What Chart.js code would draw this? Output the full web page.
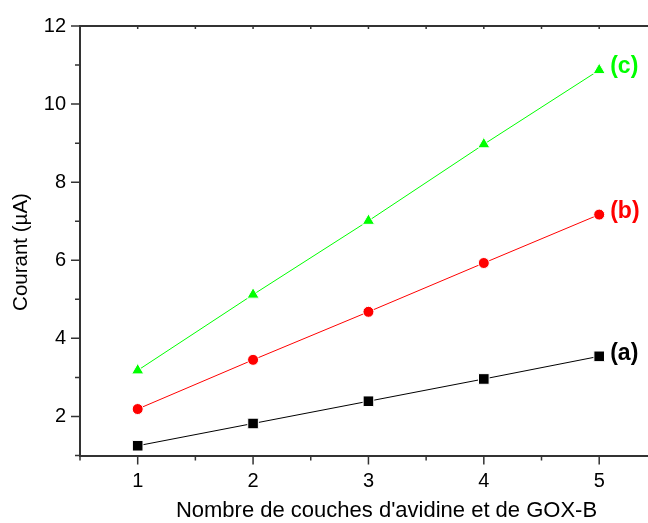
<!DOCTYPE html>
<html>
<head>
<meta charset="utf-8">
<script src="https://cdn.jsdelivr.net/npm/chart.js@4.4.1/dist/chart.umd.min.js"></script>
<style>
    html, body { margin: 0; padding: 0; background: #fff; overflow: hidden; }
    #wrap { width: 648px; height: 523px; }
</style>
</head>
<body>
<div id="wrap"><canvas id="Chart1" width="648" height="523"></canvas></div>
<script>
// couches d'avidine / GOX-B
const couches = [1, 2, 3, 4, 5];
const courantA = [1.25, 1.82, 2.39, 2.96, 3.54];
const courantB = [2.19, 3.45, 4.68, 5.93, 7.17];
const courantC = [3.18, 5.12, 7.01, 8.97, 10.87];
const serieLabels = ['(a)', '(b)', '(c)'];
const xTicks = [0.5, 1, 1.5, 2, 2.5, 3, 3.5, 4, 4.5, 5];
const yTicks = [1, 2, 3, 4, 5, 6, 7, 8, 9, 10, 11, 12];
const xTitle = "Nombre de couches d'avidine et de GOX-B";
const yTitle = 'Courant (µA)';

const axisColor = '#333';
const font = "Arial, 'Liberation Sans', sans-serif";

function toPoints(values) {
    return couches.map((c, i) => ({x: c, y: values[i]}));
}

// ticks, top frame, axis titles and (a)(b)(c) labels
const decoPlugin = {
    id: 'deco',
    afterDraw(chart) {
        const ctx = chart.ctx;
        const xs = chart.scales.x;
        const ys = chart.scales.y;
        const area = chart.chartArea;
        ctx.save();
        ctx.strokeStyle = axisColor;
        ctx.lineWidth = 1.5;
        ctx.beginPath();
        xTicks.forEach(v => {
            const px = xs.getPixelForValue(v);
            const len = Number.isInteger(v) ? 9 : 5;
            ctx.moveTo(px, area.bottom);
            ctx.lineTo(px, area.bottom + len);
            ctx.moveTo(px, area.top);
            ctx.lineTo(px, area.top + 3);
        });
        yTicks.forEach(v => {
            const py = ys.getPixelForValue(v);
            const len = v % 2 === 0 ? 9 : 5;
            ctx.moveTo(area.left, py);
            ctx.lineTo(area.left - len, py);
        });
        ctx.stroke();

        ctx.lineWidth = 2;
        ctx.beginPath();
        ctx.moveTo(area.left, area.top);
        ctx.lineTo(area.right, area.top);
        ctx.stroke();

        ctx.fillStyle = '#000';
        ctx.font = '22px ' + font;
        ctx.textAlign = 'center';
        ctx.textBaseline = 'middle';
        ctx.fillText(xTitle, 386.5, 511);

        ctx.font = '20.5px ' + font;
        ctx.translate(21, 252);
        ctx.rotate(-Math.PI / 2);
        ctx.fillText(yTitle, 0, 0);
        ctx.restore();

        ctx.save();
        ctx.font = 'bold 23px ' + font;
        ctx.textAlign = 'left';
        ctx.textBaseline = 'middle';
        chart.data.datasets.forEach((ds, i) => {
            const meta = chart.getDatasetMeta(i);
            const last = meta.data[meta.data.length - 1];
            ctx.fillStyle = ds.borderColor;
            ctx.fillText(serieLabels[i], last.x + 11, last.y - 3);
        });
        ctx.restore();
    }
};

const ctx = document.getElementById('Chart1').getContext('2d');
const courantChart = new Chart(ctx, {
    type: 'line',
    data: {
        datasets: [{
                label: '(a)',
                data: toPoints(courantA),
                borderColor: '#000000',
                backgroundColor: '#000000',
                borderWidth: 1,
                pointStyle: 'rect',
                pointRadius: 7.5,
                pointBorderColor: '#ffffff',
                pointBorderWidth: 1
            }, {
                label: '(b)',
                data: toPoints(courantB),
                borderColor: '#ff0000',
                backgroundColor: '#ff0000',
                borderWidth: 1,
                pointStyle: 'circle',
                pointRadius: 5.5,
                pointBorderColor: '#ffffff',
                pointBorderWidth: 1
            }, {
                label: '(c)',
                data: toPoints(courantC),
                borderColor: '#00ff00',
                backgroundColor: '#00ff00',
                borderWidth: 1,
                pointStyle: 'triangle',
                pointRadius: 7,
                pointBorderColor: '#ffffff',
                pointBorderWidth: 1
            }]
    },
    options: {
        responsive: false,
        animation: false,
        layout: {autoPadding: false, padding: {top: 26, right: 0, left: 0, bottom: 0}},
        plugins: {
            legend: {display: false},
            tooltip: {enabled: false}
        },
        scales: {
            x: {
                type: 'linear',
                min: 0.5,
                max: 5.423,
                grid: {display: false, drawTicks: false, tickLength: 0},
                border: {display: true, color: axisColor, width: 2},
                afterBuildTicks: scale => {
                    scale.ticks = xTicks.map(v => ({value: v}));
                },
                afterFit: scale => {
                    scale.height = 67.5;
                },
                ticks: {
                    autoSkip: false,
                    maxRotation: 0,
                    padding: 14,
                    color: '#000',
                    font: {family: font, size: 20},
                    callback: v => Number.isInteger(v) ? v : ''
                }
            },
            y: {
                type: 'linear',
                min: 1,
                max: 12,
                grid: {display: false, drawTicks: false, tickLength: 0},
                border: {display: true, color: axisColor, width: 2},
                afterBuildTicks: scale => {
                    scale.ticks = yTicks.map(v => ({value: v}));
                },
                afterFit: scale => {
                    scale.width = 80;
                },
                ticks: {
                    autoSkip: false,
                    padding: 14,
                    color: '#000',
                    font: {family: font, size: 20},
                    callback: v => v % 2 === 0 ? v : ''
                }
            }
        }
    },
    plugins: [decoPlugin]
});
</script>
</body>
</html>
